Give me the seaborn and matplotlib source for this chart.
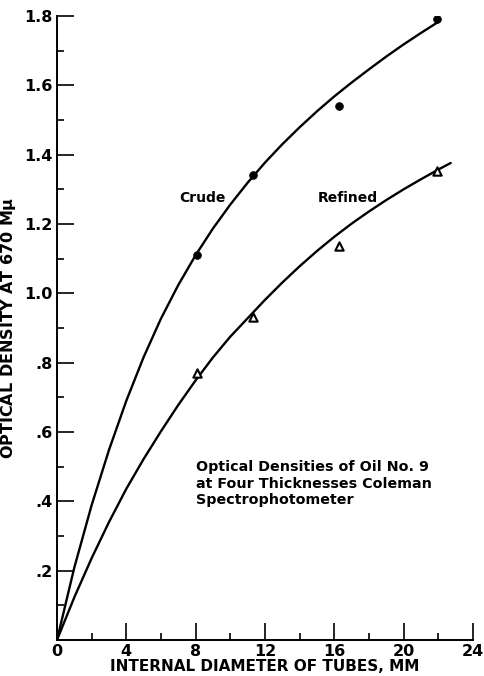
import numpy as np
import pandas as pd
import matplotlib
matplotlib.use("Agg")
import matplotlib.pyplot as plt
import seaborn as sns

# measured points
crude_x = [8.1, 11.3, 16.3, 21.95]
crude_y = [1.112, 1.341, 1.541, 1.790]
refined_x = [8.1, 11.3, 16.3, 21.95]
refined_y = [0.770, 0.933, 1.137, 1.353]

# smooth curves drawn through the points (at each mm)
crude_curve_x = [0, 1, 2, 3, 4, 5, 6, 7, 8, 9, 10, 11, 12, 13, 14, 15, 16, 17, 18, 19, 20, 21, 22]
crude_curve_y = [0, 0.209, 0.389, 0.548, 0.690, 0.816, 0.927, 1.024, 1.110, 1.187, 1.256, 1.319,
                 1.377, 1.430, 1.479, 1.525, 1.568, 1.608, 1.646, 1.683, 1.718, 1.751, 1.783]
refined_curve_x = [0, 1, 2, 3, 4, 5, 6, 7, 8, 9, 10, 11, 12, 13, 14, 15, 16, 17, 18, 19, 20, 21, 22, 22.72]
refined_curve_y = [0, 0.123, 0.236, 0.340, 0.436, 0.522, 0.602, 0.678, 0.749, 0.815, 0.875, 0.928,
                   0.981, 1.031, 1.078, 1.122, 1.163, 1.201, 1.236, 1.269, 1.300, 1.329, 1.357, 1.376]

xticks = [0, 4, 8, 12, 16, 20, 24]
xtick_labels = ["0", "4", "8", "12", "16", "20", "24"]
yticks = [0.2, 0.4, 0.6, 0.8, 1.0, 1.2, 1.4, 1.6, 1.8]
ytick_labels = [".2", ".4", ".6", ".8", "1.0", "1.2", "1.4", "1.6", "1.8"]

sns.set_style("ticks")
plt.rcParams["font.family"] = ["DejaVu Sans"]
plt.rcParams["text.color"] = "black"
plt.rcParams["axes.labelcolor"] = "black"
plt.rcParams["xtick.color"] = "black"
plt.rcParams["ytick.color"] = "black"

fig = plt.figure(figsize=(4.85, 6.76), dpi=100)
ax = fig.add_axes([0.1175, 0.0533, 0.8575, 0.923])

curves = pd.DataFrame({
    "x": crude_curve_x + refined_curve_x,
    "y": crude_curve_y + refined_curve_y,
    "oil": ["Crude"] * len(crude_curve_x) + ["Refined"] * len(refined_curve_x),
})
sns.lineplot(data=curves, x="x", y="y", units="oil", estimator=None, sort=False,
             color="black", linewidth=1.7, ax=ax)
sns.scatterplot(x=crude_x, y=crude_y, marker="o", s=32, color="black",
                edgecolor="black", ax=ax, zorder=3)
sns.scatterplot(x=refined_x, y=refined_y, marker="^", s=36, facecolor="white",
                edgecolor="black", linewidth=1.5, ax=ax, zorder=3)

ax.set_xlim(0, 24)
ax.set_ylim(0, 1.8)
ax.set_xticks(xticks)
ax.set_xticklabels(xtick_labels, fontsize=11.5, fontweight="bold")
ax.set_yticks(yticks)
ax.set_yticklabels(ytick_labels, fontsize=11.5, fontweight="bold")
ax.set_xticks(np.arange(2, 24, 4), minor=True)
ax.set_yticks(np.arange(0.1, 1.8, 0.2), minor=True)
ax.tick_params(which="major", direction="in", length=12, width=1.2, pad=3)
ax.tick_params(which="minor", direction="in", length=5, width=1.2)
for s in ["top", "right"]:
    ax.spines[s].set_visible(False)
for s in ["left", "bottom"]:
    ax.spines[s].set_linewidth(1.4)
    ax.spines[s].set_color("black")

ax.set_xlabel("INTERNAL DIAMETER OF TUBES, MM", fontsize=11, fontweight="bold", labelpad=0)
ax.set_ylabel("OPTICAL DENSITY AT 670 M$\\mathbf{\\mu}$", fontsize=11.5, fontweight="bold", labelpad=5)

ax.text(8.4, 1.275, "Crude", ha="center", va="center", fontsize=10, fontweight="bold")
ax.text(16.8, 1.275, "Refined", ha="center", va="center", fontsize=10, fontweight="bold")
ax.text(8.0, 0.518, "Optical Densities of Oil No. 9\nat Four Thicknesses Coleman\nSpectrophotometer",
        ha="left", va="top", fontsize=10.3, fontweight="bold", linespacing=1.2)

fig.savefig("out.png", dpi=100)
